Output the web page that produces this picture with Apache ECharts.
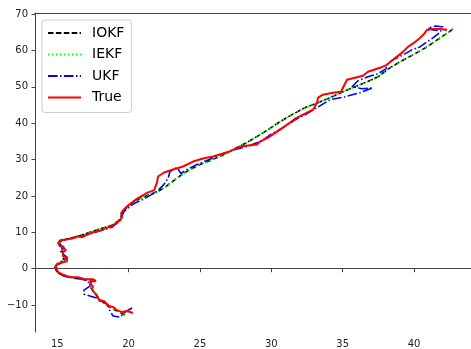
<!DOCTYPE html>
<html>
<head>
<meta charset="utf-8">
<script src="https://cdn.jsdelivr.net/npm/echarts@6/dist/echarts.min.js"></script>
<style>
html,body{margin:0;padding:0;background:#fff;}
#chart{width:471px;height:349px;}
</style>
</head>
<body>
<div id="chart"></div>
<script>
// Tick labels
const xTicks = [15, 20, 25, 30, 35, 40];
const yTicks = [-10, 0, 10, 20, 30, 40, 50, 60, 70];
const seriesNames = ['IOKF', 'IEKF', 'UKF', 'True'];

// IOKF estimate
const iokfX = [19.75,19.33,18.90,18.55,18.13,17.78,17.50,17.29,17.36,16.87,
16.17,15.54,15.05,14.91,14.98,15.33,15.47,15.33,15.40,15.19,
15.19,15.61,16.45,17.29,18.13,18.83,19.33,19.54,19.81,20.30,
20.80,21.50,22.06,22.62,23.18,23.74,24.30,25.00,25.70,26.40,
27.31,28.15,28.99,29.77,30.61,31.45,32.36,33.27,34.11,35.02,
35.86,36.70,37.47,38.31,39.01,39.92,40.91,41.82,42.45,42.73];
const iokfY = [-12.74,-11.92,-11.10,-10.27,-8.90,-7.53,-6.16,-4.79,-3.42,-2.88,
-2.60,-2.05,-1.23,-0.14,0.96,1.78,3.15,4.52,5.62,6.71,
7.53,8.08,8.90,10.00,11.10,11.92,13.29,14.93,16.58,18.22,
19.32,20.41,21.23,22.60,24.25,25.89,27.26,28.63,29.73,30.82,
32.74,34.38,36.30,38.22,40.41,42.33,44.25,45.62,46.99,48.63,
50.00,51.37,52.74,55.21,56.85,58.77,60.96,63.42,65.07,65.89];

// IEKF estimate
const iekfX = [19.76,19.34,18.91,18.55,18.12,17.78,17.51,17.30,17.35,16.88,
16.18,15.55,15.06,14.92,14.98,15.32,15.47,15.34,15.40,15.20,
15.19,15.62,16.46,17.30,18.13,18.84,19.33,19.55,19.82,20.31,
20.81,21.50,22.07,22.63,23.18,23.75,24.31,25.01,25.70,26.41,
27.31,28.16,29.00,29.78,30.62,31.46,32.37,33.28,34.12,35.03,
35.87,36.71,37.48,38.32,39.02,39.93,40.92,41.83,42.46,42.74];
const iekfY = [-12.72,-11.90,-11.08,-10.26,-8.89,-7.52,-6.15,-4.78,-3.41,-2.87,
-2.59,-2.04,-1.22,-0.13,0.97,1.79,3.16,4.53,5.63,6.72,
7.54,8.09,8.91,10.01,11.11,11.93,13.30,14.94,16.59,18.23,
19.33,20.42,21.24,22.61,24.26,25.90,27.27,28.64,29.74,30.83,
32.75,34.39,36.31,38.23,40.42,42.34,44.26,45.63,47.00,48.64,
50.01,51.38,52.75,55.22,56.86,58.78,60.97,63.43,65.08,65.90];

// UKF estimate
const ukfX = [20.24,19.75,19.40,18.91,18.69,18.56,18.13,17.78,17.29,16.87,
16.87,17.29,17.15,16.73,16.03,15.47,14.98,14.84,15.05,15.47,
15.68,15.40,15.19,15.47,15.12,15.33,16.03,16.73,17.43,18.13,
18.83,19.26,19.47,19.68,20.10,20.52,21.01,21.50,21.99,22.41,
22.76,22.90,23.39,23.67,24.09,24.79,25.49,26.40,27.45,28.50,
29.35,30.05,30.82,31.80,32.50,33.20,34.11,35.16,36.21,37.12,
36.35,35.65,36.07,36.77,37.47,38.03,38.17,38.66,39.36,39.85,
40.41,40.91,41.33,41.68,41.89,41.33,40.98,41.54,42.03,42.31];
const ukfY = [-10.82,-11.92,-13.29,-13.01,-11.64,-10.00,-8.90,-8.08,-7.53,-6.99,
-5.89,-4.79,-3.42,-2.88,-2.33,-2.05,-0.96,0.41,1.51,2.33,
3.15,3.97,5.07,5.89,6.71,7.81,8.36,8.90,9.73,10.55,
11.37,12.74,14.11,15.75,17.12,18.22,19.04,20.14,21.23,22.88,
24.79,26.71,27.81,26.16,27.26,28.63,29.73,31.37,32.74,33.84,
35.21,37.12,38.77,41.23,42.60,44.25,46.44,47.26,48.36,49.73,
49.45,50.00,51.64,52.74,53.56,54.93,56.58,57.67,59.04,60.14,
60.96,62.33,63.42,64.52,65.34,65.62,66.16,66.71,66.44,65.34];

// True trajectory
const trueX = [20.31,19.89,19.54,19.18,18.91,18.62,18.41,18.27,17.99,17.85,
17.78,17.57,17.43,17.50,17.29,17.43,17.71,17.50,16.94,16.45,
16.03,15.68,15.33,15.05,14.98,14.84,14.98,15.19,15.40,15.68,
15.68,15.40,15.40,15.61,15.40,15.19,15.05,15.05,15.19,15.75,
16.10,16.45,16.73,17.15,17.50,17.85,18.20,18.55,18.83,19.11,
19.40,19.54,19.47,19.61,19.81,20.16,20.52,20.87,21.36,21.78,
21.99,22.06,22.48,23.11,23.81,24.51,25.21,25.91,26.89,27.80,
28.99,29.21,29.77,30.61,31.31,31.66,32.22,32.92,33.20,33.27,
33.62,34.32,34.88,35.09,35.30,35.86,36.42,36.77,37.61,38.10,
38.52,38.87,39.22,39.57,39.99,40.41,40.70,40.91,41.33,41.82,
42.31];
const trueY = [-12.19,-11.64,-11.92,-11.37,-10.55,-10.27,-9.45,-8.90,-8.90,-8.08,
-7.26,-6.44,-5.62,-4.79,-4.25,-3.42,-3.42,-2.88,-2.88,-2.33,
-2.33,-2.05,-1.51,-0.96,-0.14,0.41,1.23,1.51,1.78,2.05,
3.15,3.42,4.52,5.07,5.89,6.16,6.99,7.53,7.81,8.08,
8.36,8.90,8.63,9.45,10.00,10.27,10.82,11.37,11.64,12.47,
13.29,14.11,15.21,16.03,16.85,17.95,19.04,19.86,20.96,21.51,
23.70,25.34,26.44,27.26,28.08,29.45,30.27,30.82,31.92,33.56,
34.11,34.93,36.03,38.22,40.14,41.23,42.33,43.70,45.62,46.99,
47.81,48.36,48.63,50.27,51.92,52.47,53.01,54.11,55.21,56.03,
57.40,58.49,59.59,60.96,62.05,63.42,64.52,65.62,65.89,65.89,
65.62];

function zip(xs, ys) {
  const n = Math.min(xs.length, ys.length);
  const out = [];
  for (let i = 0; i < n; i++) out.push([xs[i], ys[i]]);
  return out;
}
const fmt = v => String(v).replace('-', '\u2212');
const FONT = 'DejaVu Sans';
const axisColor = '#444';

const chart = echarts.init(document.getElementById('chart'), null, {renderer: 'canvas'});
chart.setOption({
  animation: false,
  backgroundColor: '#fff',
  grid: {left: 35, right: 0, top: 13, bottom: 16, containLabel: false},
  legend: {
    data: seriesNames,
    orient: 'vertical',
    left: 42, top: 20,
    itemWidth: 33, itemHeight: 10, itemGap: 7.5,
    padding: [6, 7, 8, 5],
    backgroundColor: 'rgba(255,255,255,0.8)',
    borderColor: '#cccccc', borderWidth: 1, borderRadius: 3,
    itemStyle: {opacity: 0},
    textStyle: {fontFamily: FONT, fontSize: 14, color: '#000', padding: [0, 0, 0, 6]}
  },
  xAxis: [{
    type: 'value', min: 13.44, max: 43.99, position: 'bottom',
    splitLine: {show: false},
    axisLine: {show: true, lineStyle: {color: axisColor, width: 1}},
    axisTick: {show: true, length: 3.5, lineStyle: {color: axisColor}, customValues: xTicks},
    axisLabel: {customValues: xTicks, margin: 7, fontFamily: FONT, fontSize: 10, color: '#222', formatter: fmt}
  }, {
    type: 'value', min: 13.44, max: 43.99, position: 'top',
    splitLine: {show: false},
    axisLine: {show: true, lineStyle: {color: axisColor, width: 1}},
    axisTick: {show: false}, axisLabel: {show: false}
  }],
  yAxis: {
    type: 'value', min: -17.40, max: 70.27,
    splitLine: {show: false},
    axisLine: {show: true, lineStyle: {color: axisColor, width: 1}},
    axisTick: {show: true, length: 3.5, lineStyle: {color: axisColor}, customValues: yTicks},
    axisLabel: {customValues: yTicks, margin: 7, fontFamily: FONT, fontSize: 10, color: '#222', formatter: fmt}
  },
  series: [
    {name: 'IOKF', type: 'line', xAxisIndex: 0, data: zip(iokfX, iokfY), symbol: 'none', showSymbol: false,
     lineStyle: {color: '#000000', width: 1.6, type: [5.5, 2.4]}, itemStyle: {color: '#000000'}},
    {name: 'IEKF', type: 'line', xAxisIndex: 0, data: zip(iekfX, iekfY), symbol: 'none', showSymbol: false,
     lineStyle: {color: '#00ff00', width: 1.6, type: [1.5, 2.5]}, itemStyle: {color: '#00ff00'}},
    {name: 'UKF', type: 'line', xAxisIndex: 0, data: zip(ukfX, ukfY), symbol: 'none', showSymbol: false,
     lineStyle: {color: '#0000ff', width: 1.6, type: [9.6, 2.4, 1.5, 2.4]}, itemStyle: {color: '#0000ff'}},
    {name: 'True', type: 'line', xAxisIndex: 0, data: zip(trueX, trueY), symbol: 'none', showSymbol: false,
     lineStyle: {color: '#ff0000', width: 2}, itemStyle: {color: '#ff0000'}}
  ]
});
</script>
</body>
</html>
